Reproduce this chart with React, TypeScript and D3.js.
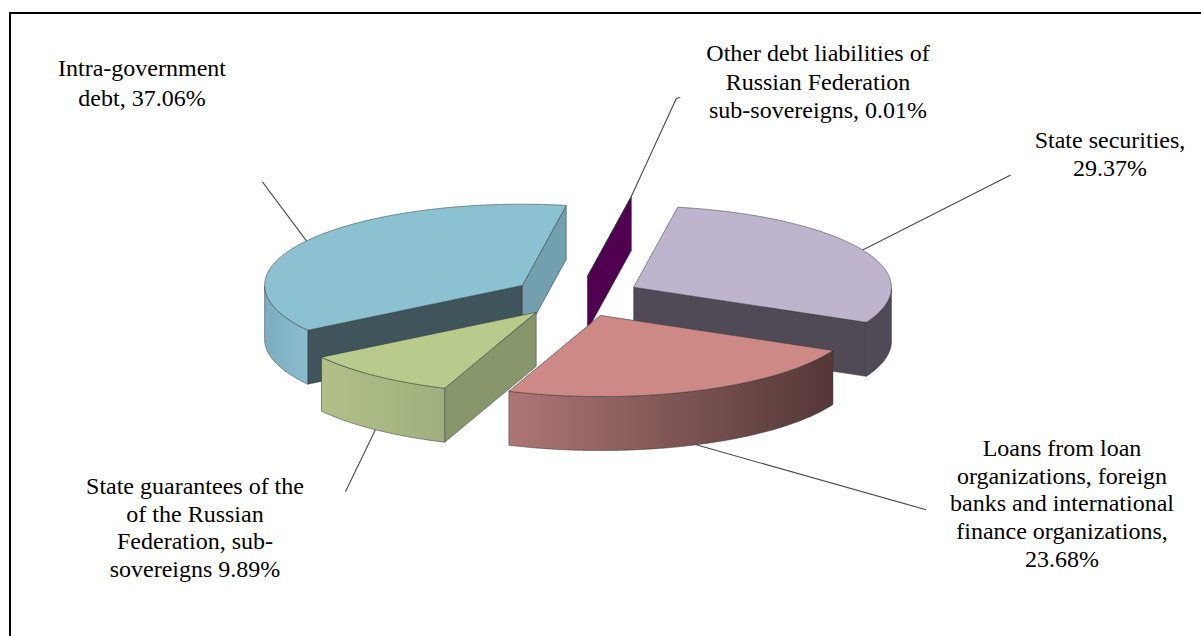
import * as d3 from "d3";

// Debt structure shares, clockwise from the top of the pie
const categories = [
  "State securities",
  "Loans",
  "State guarantees",
  "Intra-government debt",
  "Other debt liabilities",
];
const shares = [29.37, 23.68, 9.89, 37.06, 0.01];

const topColors = ["#bfb4cd", "#cd8986", "#b9ca8d", "#8bc1d0", "#4f004f"];
const startWallColors = ["#4f4a56", "#573838", "#88976b", "#3f545b", "#4f004f"];
const endWallColors = ["#4f4a56", "#8f6463", "#88976b", "#73a0ae", "#4f004f"];
const rimStops: [string, string, string][] = [
  ["#4f4a56", "#4f4a56", "#4f4a56"],
  ["#ad7674", "#7f5655", "#553737"],
  ["#b2bf88", "#a8b882", "#9eb07e"],
  ["#7cadc1", "#82b5c8", "#8bbccd"],
  ["#4f004f", "#4f004f", "#4f004f"],
];

// Painter's order: back slices first
const drawOrder = [3, 4, 0, 2, 1];

const labelLines = [
  ["State securities,", "29.37%"],
  ["Loans from loan", "organizations, foreign", "banks and international", "finance organizations,", "23.68%"],
  ["State guarantees of the", "of the Russian", "Federation, sub-", "sovereigns 9.89%"],
  ["Intra-government", "debt, 37.06%"],
  ["Other debt liabilities of", "Russian Federation", "sub-sovereigns, 0.01%"],
];
const labelAnchors: [number, number][] = [
  [1110, 148],
  [1062, 456],
  [195, 494],
  [142, 76],
  [818, 61],
];
const labelLineGap = [27.5, 27.7, 27.7, 30, 28.5];

// Leader line polylines, as offsets from each slice's rim midpoint
const leaderOffsets: [number, number][][] = [
  [[148, -75]],
  [[230, 65]],
  [[-30, 62]],
  [[-44, -59]],
  [[45, -98], [49, -99]],
];

const width = 1201;
const height = 636;
const center = { x: 576.4, y: 296.5 };
const axisU = { x: 254, y: 14 };
const axisV = { x: 44, y: -80 };
const explosion = 0.25;
const depth = 54;

// Tilted-disc projection: angle is clockwise from the top, r is a fraction of the radius
const project = (angle: number, r = 1) => ({
  x: r * (axisU.x * Math.sin(angle) + axisV.x * Math.cos(angle)),
  y: r * (axisU.y * Math.sin(angle) + axisV.y * Math.cos(angle)),
});

const pieAngles = d3
  .pie<number>()
  .sort(null)
  .value((d) => d)(shares);

type Pt = { x: number; y: number };
const path = d3
  .line<Pt>()
  .x((d) => d.x)
  .y((d) => d.y);
const closed = (pts: Pt[]) => path(pts) + "Z";
const drop = (p: Pt, h = depth) => ({ x: p.x, y: p.y + h });

// The near half of the rim runs leftwards as the angle grows
const facesViewer = (angle: number) =>
  axisU.x * Math.cos(angle) - axisV.x * Math.sin(angle) < 0;

// A radial wall shows when the slice's top face lies above the wall's edge line
const wallShows = (apex: Pt, outer: Pt, inner: Pt) => {
  const cross = (outer.x - apex.x) * (inner.y - apex.y) - (outer.y - apex.y) * (inner.x - apex.x);
  return outer.x > apex.x ? cross < 0 : cross > 0;
};

const slices = pieAngles.map((arc, i) => {
  const mid = (arc.startAngle + arc.endAngle) / 2;
  const shift = project(mid, explosion);
  const apex = { x: center.x + shift.x, y: center.y + shift.y };
  const steps = Math.max(2, Math.ceil((arc.endAngle - arc.startAngle) / 0.01));
  const angles = d3.range(steps + 1).map((k) => arc.startAngle + ((arc.endAngle - arc.startAngle) * k) / steps);
  const toRim = (a: number) => {
    const p = project(a);
    return { x: apex.x + p.x, y: apex.y + p.y };
  };
  const rim = angles.map(toRim);
  const nearRim = angles.filter(facesViewer).map(toRim);
  return { i, apex, rim, nearRim, mid: toRim(mid), thin: arc.endAngle - arc.startAngle < 0.01 };
});

const edge = "rgba(45,50,50,0.7)";

export default function App() {
  return (
    <svg
      width={width}
      height={height}
      style={{ position: "absolute", left: 0, top: 0, display: "block", background: "#fff" }}
    >
      <defs>
        {slices.map((s) => {
          const [x1, x2] = d3.extent(s.nearRim.length ? s.nearRim : s.rim, (p) => p.x) as [number, number];
          return (
            <linearGradient
              key={s.i}
              id={`rim-${s.i}`}
              gradientUnits="userSpaceOnUse"
              x1={x1}
              x2={x2 + 0.01}
              y1={0}
              y2={0}
            >
              {rimStops[s.i].map((c, k) => (
                <stop key={k} offset={k / 2} stopColor={c} />
              ))}
            </linearGradient>
          );
        })}
      </defs>

      <path d="M10 636V13H1201" fill="none" stroke="#000" strokeWidth={2} />

      {/* Leader lines sit behind the slices */}
      {slices.map((s) => {
        const anchor = s.i === 1 || s.i === 2 ? drop(s.mid) : s.mid;
        const pts = [anchor, ...leaderOffsets[s.i].map(([dx, dy]) => ({ x: anchor.x + dx, y: anchor.y + dy }))];
        return <path key={s.i} d={path(pts) ?? ""} fill="none" stroke="#4a4a4a" strokeWidth={1.1} />;
      })}

      {drawOrder.map((i) => {
        const s = slices[i];
        const first = s.rim[0];
        const last = s.rim[s.rim.length - 1];
        const band = [...s.nearRim, ...s.nearRim.slice().reverse().map((p) => drop(p))];
        const wallProps = { stroke: edge, strokeWidth: 0.7, strokeLinejoin: "round" as const };
        return (
          <g key={categories[i]}>
            {wallShows(s.apex, first, s.mid) && !s.thin && (
              <path
                d={closed([s.apex, first, drop(first), drop(s.apex)])}
                fill={startWallColors[i]}
                {...wallProps}
              />
            )}
            {(wallShows(s.apex, last, s.mid) || s.thin) && (
              <path
                d={closed([s.apex, last, drop(last), drop(s.apex)])}
                fill={endWallColors[i]}
                {...wallProps}
              />
            )}
            {band.length > 0 && <path d={closed(band)} fill={`url(#rim-${i})`} {...wallProps} />}
            <path d={closed([s.apex, ...s.rim])} fill={topColors[i]} {...wallProps} />
          </g>
        );
      })}

      <g fontFamily="'Liberation Serif', 'Times New Roman', serif" fontSize={24} fill="#000" textAnchor="middle">
        {labelLines.map((lines, i) => (
          <text key={i}>
            {lines.map((line, k) => (
              <tspan key={k} x={labelAnchors[i][0]} y={labelAnchors[i][1] + k * labelLineGap[i]}>
                {line}
              </tspan>
            ))}
          </text>
        ))}
      </g>
    </svg>
  );
}
